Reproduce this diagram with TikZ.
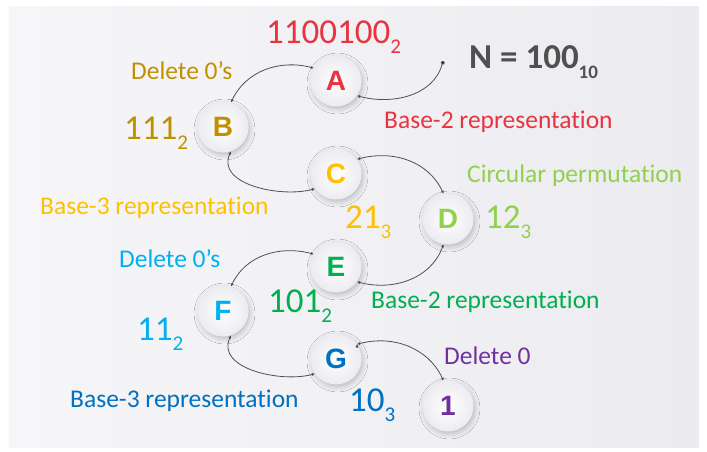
\documentclass[tikz,border=0pt]{standalone}
\usepackage{fontspec}
\setmainfont{Carlito}[Ligatures={NoCommon,NoRequired}]
\newfontfamily\letterfont{Liberation Sans}
\usepackage{tikz}
\usetikzlibrary{arrows.meta}
\usetikzlibrary{shadows.blur}

\definecolor{cred}{RGB}{232,52,64}
\definecolor{cgold}{RGB}{191,144,0}
\definecolor{cyell}{RGB}{255,192,0}
\definecolor{clgreen}{RGB}{146,208,80}
\definecolor{cgreen}{RGB}{0,176,80}
\definecolor{ccyan}{RGB}{0,176,240}
\definecolor{cblue}{RGB}{0,112,192}
\definecolor{cpurple}{RGB}{112,48,160}
\definecolor{cdark}{RGB}{80,80,80}

\newcommand{\lowsub}[1]{\raisebox{-0.3em}{\fontsize{21}{21}\selectfont #1}}

\begin{document}
\begin{tikzpicture}[x=1pt,y=1pt,
	main node/.style={circle,minimum size=51pt,inner sep=0pt,
		shading=radial,inner color=white,outer color={rgb,255:red,236;green,236;blue,240},
		blur shadow={shadow xshift=1.5pt,shadow yshift=-2.5pt,shadow blur radius=5pt,shadow opacity=22},
		font=\letterfont\bfseries\fontsize{28}{28}\selectfont},
	label node/.style={anchor=base west,inner sep=0pt,font=\fontsize{25.5}{25.5}\selectfont},
	num node/.style={anchor=base west,inner sep=0pt,font=\fontsize{35}{35}\selectfont},
	conn/.style={draw=cdark,line width=0.8pt,{Latex[length=3pt,width=3pt]}-{Latex[length=3pt,width=3pt]}}]

	% background
	\useasboundingbox (0,0) rectangle (707,-451);
	\shade[left color={rgb,255:red,246;green,246;blue,249},right color={rgb,255:red,236;green,236;blue,240}]
		(9,-6) rectangle (699,-447);

	\node[main node,text=cred] (a) at (336,-81) {A};
	\node[main node,text=cgold] (b) at (223,-127) {B};
	\node[main node,text=cyell] (c) at (336,-174) {C};
	\node[main node,text=clgreen] (d) at (448,-219) {D};
	\node[main node,text=cgreen] (e) at (336,-267) {E};
	\node[main node,text=ccyan] (f) at (223,-311) {F};
	\node[main node,text=cblue] (g) at (336,-359) {G};
	\node[main node,text=cpurple] (one) at (448,-406) {1};
	\coordinate (start) at (443,-61);

	\path[conn]
	(a.150) edge[out=165,in=65] (b.72)
	(b.-72) edge[out=-115,in=-165] (c.-145)
	(c.35) edge[out=15,in=115] (d.100)
	(d.-100) edge[out=-110,in=-15] (e.-35)
	(e.150) edge[out=165,in=65] (f.72)
	(f.-72) edge[out=-115,in=-165] (g.-145)
	(g.35) edge[out=15,in=115] (one.100);
	\path[draw=cdark,line width=0.8pt,{Circle[length=3.5pt]}-{Latex[length=3pt,width=3pt]}]
	(start) edge[out=-105,in=-15] (a.-35);

	% values
	\node[num node,text=cred] (va) at (266,-43) {1100100\lowsub{2}};
	\node[anchor=base west,inner sep=0pt,text=cdark,font=\bfseries\fontsize{35}{35}\selectfont] (vn) at (469,-68)
		{N = 100\raisebox{-0.3em}{\fontsize{19}{19}\selectfont 10}};
	\node[num node,text=cgold] (vb) at (124,-139) {111\lowsub{2}};
	\node[num node,text=cyell] (vc) at (345,-228) {21\lowsub{3}};
	\node[num node,text=clgreen] (vd) at (485,-228) {12\lowsub{3}};
	\node[num node,text=cgreen] (ve) at (268,-312) {101\lowsub{2}};
	\node[num node,text=ccyan] (vf) at (137,-340) {11\lowsub{2}};
	\node[num node,text=cblue] (vg) at (349,-411) {10\lowsub{3}};

	% steps
	\node[label node,text=cred] (la) at (384,-128) {Base-2 representation};
	\node[label node,text=cgold] (lb) at (131,-79) {Delete 0’s};
	\node[label node,text=cyell] (lc) at (40,-214) {Base-3 representation};
	\node[label node,text=clgreen] (ld) at (467,-182) {Circular permutation};
	\node[label node,text=cgreen] (le) at (371,-308) {Base-2 representation};
	\node[label node,text=ccyan] (lf) at (119,-267) {Delete 0’s};
	\node[label node,text=cblue] (lg) at (70,-407) {Base-3 representation};
	\node[label node,text=cpurple] (lh) at (444,-364) {Delete 0};
\end{tikzpicture}
\end{document}
